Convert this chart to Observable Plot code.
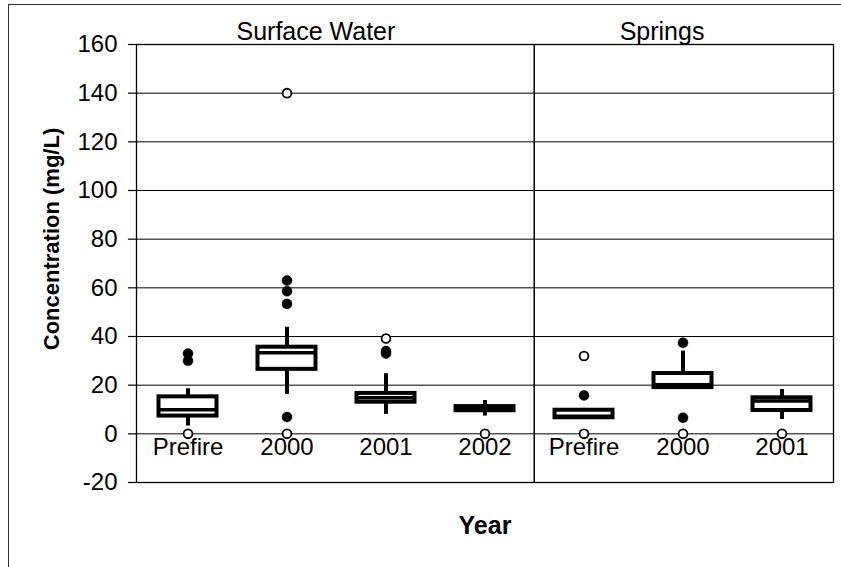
<!DOCTYPE html>
<html><head><meta charset="utf-8">
<script src="https://cdn.jsdelivr.net/npm/d3@7"></script>
<script src="https://cdn.jsdelivr.net/npm/@observablehq/plot@0.6"></script>
<style>
body{margin:0;background:#fff;}
#wrap{position:relative;width:841px;height:567px;overflow:hidden;background:#fff;}
#border{position:absolute;left:8px;top:4px;width:900px;height:700px;border:1.5px solid #333;box-sizing:border-box;}
#chart{position:absolute;left:0;top:0;}
</style></head><body>
<div id="wrap"><div id="border"></div><div id="chart"></div></div>
<script>
// Categories
const groups = ["Surface Water","Surface Water","Surface Water","Surface Water","Springs","Springs","Springs"];
const years = ["Prefire","2000","2001","2002","Prefire","2000","2001"];
const panelTitles = ["Surface Water","Springs"];
// Box statistics (mg/L)
const q1 = [7.3, 26.5, 13.0, 9.5, 6.6, 19.0, 9.6];
const median = [9.9, 33.3, 14.8, 10.3, 7.2, 20.2, 13.5];
const q3 = [15.2, 35.6, 16.6, 11.2, 9.7, 24.8, 14.8];
const whiskerLow = [3.2, 16.2, 8.0, 7.3, 6.6, 19.0, 5.9];
const whiskerHigh = [18.5, 43.8, 24.7, 13.7, 9.7, 34.0, 18.2];
// Outliers
const filledCat = [0, 0, 1, 1, 1, 1, 2, 2, 4, 5, 5];
const filledValues = [33, 30, 63, 58.6, 53.4, 6.9, 34, 33, 15.8, 37.4, 6.6];
const openCat = [0, 1, 1, 2, 3, 4, 4, 5, 6];
const openValues = [0, 140, 0, 39.2, 0, 32, 0, 0, 0];
// Axis
const yTicks = [-20, 0, 20, 40, 60, 80, 100, 120, 140, 160];

const keys = groups.map((g, i) => g + "|" + years[i]);
const stats = keys.map((k, i) => ({key: k, year: years[i], q1: q1[i], median: median[i], q3: q3[i], lo: whiskerLow[i], hi: whiskerHigh[i]}));
const filled = filledCat.map((c, i) => ({key: keys[c], value: filledValues[i]}));
const open = openCat.map((c, i) => ({key: keys[c], value: openValues[i]}));

const W = 841, H = 567, mL = 136, mR = 8, mT = 44, mB = 85;
const bw = (W - mL - mR) / keys.length;
const inset = 20.5;
const lw = 4;

const chart = Plot.plot({
  width: W, height: H,
  marginLeft: mL, marginRight: mR, marginTop: mT, marginBottom: mB,
  x: {type: "band", domain: keys, padding: 0, axis: null},
  y: {domain: [-20, 160], axis: null},
  style: {fontFamily: "'Liberation Sans', Arial, sans-serif", fontSize: "24px", background: "transparent", color: "black", overflow: "visible"},
  marks: [
    Plot.ruleY(yTicks, {stroke: "black", strokeWidth: 1}),
    Plot.axisY({ticks: yTicks, tickSize: 8, tickPadding: 11, fontSize: 24, label: null, strokeWidth: 1.2, tickFormat: d => String(d)}),
    Plot.ruleX([keys[4]], {x: d => d, dx: -bw / 2, stroke: "black", strokeWidth: 1.5}),
    Plot.text(stats, {x: "key", y: () => 0, text: "year", lineAnchor: "top", dy: 4.5, fontSize: 24}),
    Plot.ruleX(stats, {x: "key", y1: "q3", y2: "hi", stroke: "black", strokeWidth: lw}),
    Plot.ruleX(stats, {x: "key", y1: "lo", y2: "q1", stroke: "black", strokeWidth: lw}),
    Plot.barY(stats, {x: "key", y1: "q1", y2: "q3", fill: "white", stroke: "black", strokeWidth: lw, insetLeft: inset, insetRight: inset}),
    Plot.tickY(stats, {x: "key", y: "median", stroke: "black", strokeWidth: 3.5, insetLeft: inset, insetRight: inset}),
    Plot.dot(filled, {x: "key", y: "value", r: 5, fill: "black", stroke: "black", strokeWidth: 0.5}),
    Plot.dot(open, {x: "key", y: "value", r: 4.4, fill: "white", stroke: "black", strokeWidth: 1.8}),
    Plot.frame({stroke: "black", strokeWidth: 1.3}),
    Plot.text([panelTitles[0]], {x: () => keys[2], frameAnchor: "top", dx: -bw / 2 - 20.3, dy: -5, lineAnchor: "bottom", textAnchor: "middle", fontSize: 25}),
    Plot.text([panelTitles[1]], {x: () => keys[5], frameAnchor: "top", dx: -21, dy: -5, lineAnchor: "bottom", textAnchor: "middle", fontSize: 25}),
    Plot.text(["Concentration (mg/L)"], {frameAnchor: "left", rotate: -90, textAnchor: "middle", dx: -78, dy: -24.5, lineAnchor: "bottom", fontWeight: "bold", fontSize: 22}),
    Plot.text(["Year"], {frameAnchor: "bottom", dy: 51.6, lineAnchor: "bottom", textAnchor: "middle", fontWeight: "bold", fontSize: 25})
  ]
});
document.getElementById("chart").appendChild(chart);
</script>
</body></html>
